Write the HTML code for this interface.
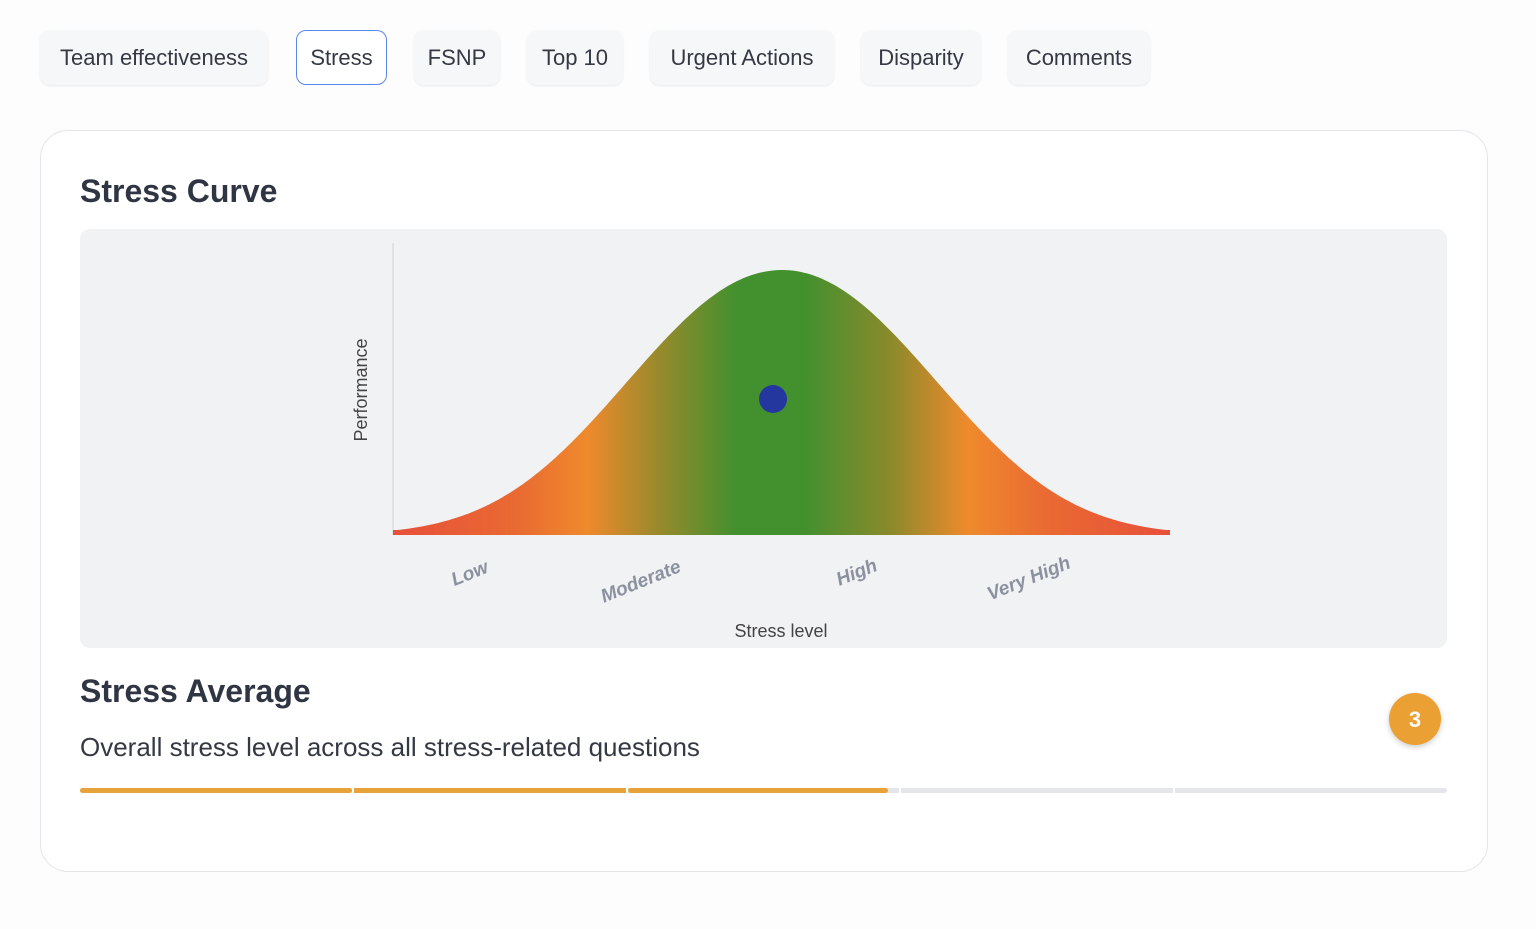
<!DOCTYPE html>
<html><head><meta charset="utf-8"><style>
body{margin:0;width:1536px;height:929px;background:#fdfdfd;font-family:"Liberation Sans",sans-serif;color:#333843;position:relative;overflow:hidden}
.tab{position:absolute;top:30px;height:55px;box-sizing:border-box;border-radius:10px;background:#f6f7f8;box-shadow:0 1px 2px rgba(0,0,0,0.08);font-size:22px;line-height:55px;text-align:center;color:#343944;white-space:nowrap}
.tab.act{background:#fff;border:1px solid #5b85f0;line-height:53px;box-shadow:none}
.card{position:absolute;left:40px;top:130px;width:1448px;height:742px;box-sizing:border-box;border:1px solid #e3e5e8;border-radius:28px;background:#fff}
h2{position:absolute;margin:0;font-size:32px;font-weight:bold;color:#2f3542}
.panel{position:absolute;left:80px;top:229px;width:1367px;height:419px;background:#f1f2f4;border-radius:10px}
</style></head><body>
<div class="tab" style="left:40px;width:228px">Team effectiveness</div>
<div class="tab act" style="left:296px;width:91px">Stress</div>
<div class="tab" style="left:414px;width:86px">FSNP</div>
<div class="tab" style="left:527px;width:96px">Top 10</div>
<div class="tab" style="left:650px;width:184px">Urgent Actions</div>
<div class="tab" style="left:861px;width:120px">Disparity</div>
<div class="tab" style="left:1008px;width:142px">Comments</div>
<div class="card"></div>
<h2 style="left:80px;top:173px">Stress Curve</h2>
<div class="panel"></div>
<svg width="1536" height="929" style="position:absolute;left:0;top:0">
<defs><linearGradient id="g" gradientUnits="userSpaceOnUse" x1="393" y1="0" x2="1170" y2="0">
<stop offset="0" stop-color="#e8503a"/>
<stop offset="0.16" stop-color="#e96a32"/>
<stop offset="0.25" stop-color="#ef8a2c"/>
<stop offset="0.34" stop-color="#9a8a2c"/>
<stop offset="0.44" stop-color="#43902f"/>
<stop offset="0.53" stop-color="#43902f"/>
<stop offset="0.64" stop-color="#8a8a2c"/>
<stop offset="0.74" stop-color="#ef8a2c"/>
<stop offset="0.84" stop-color="#e96a32"/>
<stop offset="1" stop-color="#e8503a"/>
</linearGradient></defs>
<line x1="393" y1="243" x2="393" y2="535" stroke="#d0d2d6" stroke-width="1"/>
<path id="curve" fill="url(#g)" d=""/>
<circle cx="773" cy="399" r="14" fill="#23379e"/>
<text x="367" y="390" transform="rotate(-90 367 390)" text-anchor="middle" font-size="18" fill="#444">Performance</text>
<g font-size="19" font-weight="bold" font-style="italic" fill="#8c91a0">
<text x="472" y="579" transform="rotate(-22 472 579)" text-anchor="middle">Low</text>
<text x="643" y="587" transform="rotate(-22 643 587)" text-anchor="middle">Moderate</text>
<text x="859" y="578" transform="rotate(-22 859 578)" text-anchor="middle">High</text>
<text x="1031" y="584" transform="rotate(-22 1031 584)" text-anchor="middle">Very High</text>
</g>
<text x="781" y="637" text-anchor="middle" font-size="18" fill="#444">Stress level</text>
<g fill="#e5e6ea"><rect x="80" y="788" width="1367" height="5" rx="2.5"/></g>
<g fill="#e8a23a">
<rect x="80" y="788" width="272" height="5" rx="2.5"/>
<rect x="354" y="788" width="272" height="5"/>
<rect x="628" y="788" width="260" height="5" rx="2.5"/>
</g>
<g fill="#fff"><rect x="352" y="786" width="2" height="9"/><rect x="626" y="786" width="2" height="9"/><rect x="899" y="786" width="2" height="9"/><rect x="1173" y="786" width="2" height="9"/></g>
<circle cx="1415" cy="719" r="26" fill="#eaa033" style="filter:drop-shadow(0 2px 3px rgba(0,0,0,0.2))"/>
<text x="1415" y="727" text-anchor="middle" font-size="22" font-weight="bold" fill="#fff">3</text>
</svg>
<h2 style="left:80px;top:673px">Stress Average</h2>
<div style="position:absolute;left:80px;top:732px;font-size:26px;color:#343944">Overall stress level across all stress-related questions</div>
<script>
var d="M393 535";
for(var x=393;x<=1170;x+=3){var dx=Math.abs(x-782);var s=156-20*(dx/389);var y=535-265*Math.exp(-dx*dx/(2*s*s));if(y>530)y=530;d+=" L"+x+" "+y.toFixed(1);}
d+=" L1170 530 L1170 535 Z";
document.getElementById('curve').setAttribute('d',d);
</script>
</body></html>
